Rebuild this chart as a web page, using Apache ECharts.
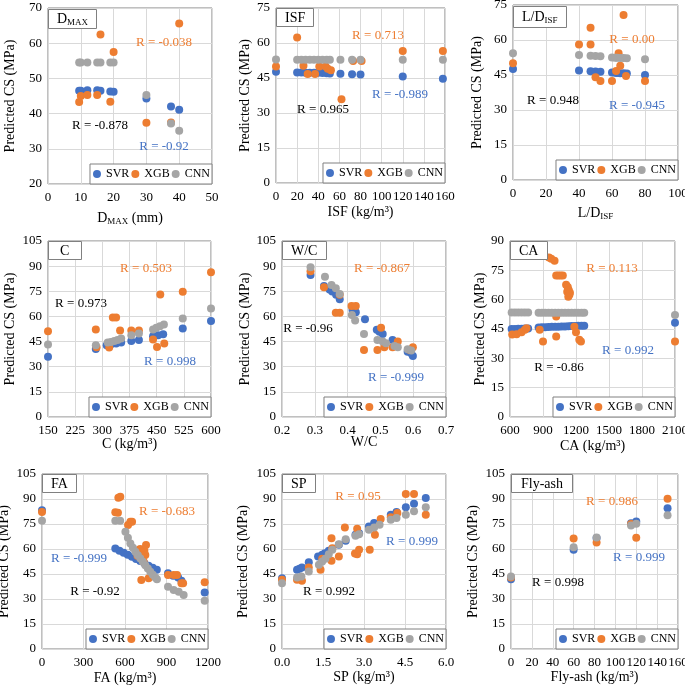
<!DOCTYPE html>
<html><head><meta charset="utf-8">
<script src="https://cdn.jsdelivr.net/npm/echarts@6/dist/echarts.min.js"></script>
<style>html,body{margin:0;padding:0;background:#fff}#c{width:685px;height:688px}</style>
</head><body><div id="c"></div>
<script>
// ---------- DATA ----------
// Panel 1: D_MAX
const dmaxX   = [9.5,10,12,15,16,19,20,30,37.5,40];
const dmaxSVR = [46.5,46.5,46.6,46.6,46.5,46.3,46.2,44.3,42.0,41.1];
const dmaxXGB = [43.3,45.0,45.3,45.3,62.5,43.4,57.5,37.4,37.5,65.6];
const dmaxCNN = [54.5,54.5,54.5,54.5,54.5,54.5,54.5,45.3,37.2,35.1];
// Panel 2: ISF
const isfX    = [0,20,24,28,32,36,40,44,48,51,61,72,80,120,158];
const isfSVR  = [47.7,47.4,47.4,47.3,47.3,47.2,47.2,47.1,47.0,46.9,46.8,46.6,46.5,45.6,44.7];
const isfCNN  = [52.9,52.8,52.8,52.8,52.8,52.8,52.8,52.8,52.8,52.8,52.8,52.8,52.8,52.8,52.8];
const isfXgbX = [0,20,26,30,37,41,47,49,52,62,73,81,120,158];
const isfXGB  = [49.9,62.4,50.2,46.7,46.7,49.9,49.9,49.0,48.3,35.9,52.3,52.3,56.6,56.6];
// Panel 3: L/D_ISF
const ldX     = [0,40,47,50,53,60,62,63,65,67,69,80];
const ldSVR   = [47.6,46.9,46.6,46.5,46.4,46.1,46.0,45.9,45.8,45.7,45.6,45.0];
const ldCNN   = [54.3,53.6,53.3,53.1,53.0,52.5,52.4,52.4,52.3,52.3,52.2,51.7];
const ldXgbX  = [0,40,47,47,50,53,60,62.5,64,65,67,68.5,80];
const ldXGB   = [50.0,58.1,65.3,58.1,44.0,42.4,42.4,46.7,54.3,49.0,70.7,44.6,42.4];
// Panel 4: C
const cSvrX   = [150,282,312,324,338,352,380,401,440,454,468,522,600];
const cSVR    = [35.9,40.6,42.8,43.4,43.8,44.4,45.4,46.0,48.2,48.8,49.4,52.8,57.2];
const cXgbX   = [150,282,284,319,329,338,349,380,401,440,451,460,471,522,600];
const cXGB    = [51.2,52.2,41.6,41.4,59.4,59.4,51.6,51.6,51.6,46.2,41.8,73.1,43.8,74.7,86.3];
const cCnnX   = [150,282,315,324,333,342,352,380,401,440,449,459,470,522,600];
const cCNN    = [43.2,42.8,44.4,44.8,45.4,46.0,46.8,48.8,49.8,52.2,53.2,54.2,55.2,58.8,64.7];
// Panel 5: W/C
const wcSvrX  = [0.287,0.328,0.345,0.353,0.365,0.376,0.415,0.425,0.453,0.489,0.497,0.507,0.537,0.545,0.583,0.594,0.599];
const wcSVR   = [84.7,78.2,76.0,74.8,73.0,70.2,63.9,62.5,58.3,52.1,50.8,49.5,46.0,44.5,39.0,38.0,36.4];
const wcXgbX  = [0.287,0.328,0.364,0.376,0.376,0.412,0.425,0.450,0.491,0.502,0.512,0.537,0.553,0.590,0.599];
const wcXGB   = [87.0,77.4,62.2,62.2,73.0,66.2,66.2,39.9,39.9,53.3,41.6,41.6,45.0,40.0,41.6];
const wcCnnX  = [0.287,0.331,0.351,0.364,0.376,0.413,0.423,0.450,0.491,0.507,0.517,0.543,0.553,0.583,0.594];
const wcCNN   = [89.3,83.7,78.8,76.8,73.4,60.8,57.5,49.5,46.0,45.0,44.0,42.3,41.6,40.4,39.6];
// Panel 6: CA
const caX     = [615,645,675,705,735,765,860,890,920,950,980,1010,1040,1070,1100,1130,1160,1190,1220,1250,1275,2100];
const caSVR   = [45.0,45.0,45.1,45.1,45.2,45.2,45.8,45.9,45.9,46.0,46.1,46.1,46.2,46.3,46.3,46.4,46.5,46.5,46.6,46.7,46.7,48.2];
const caCNN   = [53.4,53.4,53.4,53.4,53.4,53.4,53.3,53.3,53.3,53.3,53.3,53.3,53.3,53.3,53.3,53.3,53.3,53.3,53.3,53.3,53.3,52.1];
const caXgbX  = [620,660,705,735,750,870,900,954,975,1005,1020,1040,1060,1080,1020,1020,1110,1125,1134,1120,1140,1130,1145,1185,1200,1230,1245,2100];
const caXGB   = [42.2,42.3,43.4,44.6,45.4,44.6,38.6,81.6,80.9,79.9,72.4,72.4,72.4,72.4,51.4,41.2,67.6,66.5,65.0,64.0,62.5,61.5,63.5,46.2,43.4,39.5,38.6,38.6];
// Panel 7: FA
const faSvrX  = [0,530,560,590,620,650,680,710,740,770,800,830,911,948,984,1008,1176];
const faSVR   = [83.3,60.3,59.0,57.8,56.5,55.3,54.0,52.8,51.5,50.0,48.8,47.5,45.4,44.0,42.9,40.9,33.9];
const faXgbX  = [0,530,549,552,566,622,639,651,690,699,710,723,728,740,747,752,735,718,771,911,952,976,1008,1020,1176];
const faXGB   = [82.2,82.0,81.8,90.8,91.4,74.4,76.4,76.4,56.0,59.4,60.0,58.4,54.0,59.0,56.4,62.4,52.4,41.4,42.4,44.4,44.4,44.4,39.5,39.5,40.1];
const faCnnX  = [0,530,565,603,621,639,657,675,693,711,729,747,765,783,801,819,831,911,952,988,1024,1176];
const faCNN   = [77.0,77.0,77.0,70.3,66.8,63.3,60.8,58.3,56.3,54.3,52.3,50.3,48.3,46.3,44.6,42.9,41.8,37.4,35.4,34.4,32.4,28.9];
// Panel 8: SP
const spSvrX  = [0,0.55,0.64,0.73,0.98,1.32,1.47,1.57,1.71,2.08,2.33,2.69,2.82,3.18,3.37,3.98,4.19,4.53,4.83,5.26];
const spSVR   = [42.5,47.5,48.1,48.9,52.1,55.5,56.5,57.5,58.9,62.5,64.9,68.5,69.5,73.5,75.6,80.6,82.2,85.0,87.2,90.6];
const spXgbX  = [0,0.55,0.73,0.98,1.41,1.47,1.81,1.84,1.81,2.08,2.30,2.67,2.75,2.82,2.75,3.21,3.40,3.61,3.98,4.22,4.53,4.83,5.26];
const spXGB   = [41.5,41.5,40.9,48.9,47.5,54.1,66.5,60.5,52.9,55.5,72.9,57.3,56.9,59.5,72.1,59.5,68.5,78.0,79.0,81.6,93.0,93.0,80.6];
const spCnnX  = [0,0.55,0.71,0.98,1.35,1.47,1.59,1.71,1.84,2.08,2.33,2.69,2.82,3.18,3.37,3.57,3.98,4.19,4.53,4.83,5.26];
const spCNN   = [39.5,42.9,43.5,46.5,50.5,52.5,54.1,56.9,59.5,62.9,65.9,67.9,68.9,71.5,72.9,74.5,77.6,78.6,80.6,82.6,85.0];
// Panel 9: Fly-ash
const flyX    = [0,60,82,115,120,150];
const flySVR  = [41.9,59.5,66.6,75.5,76.5,84.5];
const flyXGB  = [42.9,66.3,63.9,75.0,66.7,90.2];
const flyCNN  = [43.5,61.1,66.9,74.1,75.2,80.2];

// R annotations per panel: [orange, blue, black]
const rTexts = [
  ['R = -0.038','R = -0.92','R = -0.878'],
  ['R = 0.713','R = -0.989','R = 0.965'],
  ['R = 0.00','R = -0.945','R = 0.948'],
  ['R = 0.503','R = 0.998','R = 0.973'],
  ['R = -0.867','R = -0.999','R = -0.96'],
  ['R = 0.113','R = 0.992','R = -0.86'],
  ['R = -0.683','R = -0.999','R = -0.92'],
  ['R = 0.95','R = 0.999','R = 0.992'],
  ['R = 0.986','R = 0.999','R = 0.998']
];
const panelTitles = ['{a|D}{s|MAX}','ISF','{a|L/D}{s|ISF}','C','W/C','CA','FA','SP','Fly-ash'];
const xNames = ['{a|D}{s|MAX}{a| (mm)}','ISF (kg/m³)','{a|L/D}{s|ISF}','C (kg/m³)','W/C','CA (kg/m³)','FA (kg/m³)','SP (kg/m³)','Fly-ash (kg/m³)'];
const seriesNames = ['SVR','XGB','CNN'];

// ---------- LAYOUT / STYLE ----------
const FONT = '"Liberation Serif","Times New Roman",serif';
const COLORS = {SVR:'#4472C4', XGB:'#ED7D31', CNN:'#A5A5A5'};
const pair = (xs, ys) => xs.map((x, i) => [x, ys[i]]);

const panels = [
  {g:[48,8,164,176],  x:[0,50,10],     y:[20,70,10], s:[[dmaxX,dmaxSVR],[dmaxX,dmaxXGB],[dmaxX,dmaxCNN]], xg:26, yg:31, tpad:[3,9,2,9],
   r:[[164,43],[164,147],[100,126]]},
  {g:[276,8,169,175], x:[0,160,20],    y:[0,75,15],  s:[[isfX,isfSVR],[isfXgbX,isfXGB],[isfX,isfCNN]], xg:22, yg:24, tpad:[3,9,2,9],
   r:[[378,36],[400,95],[323,110]]},
  {g:[513,5,165,175], x:[0,100,20],    y:[0,75,15],  s:[[ldX,ldSVR],[ldXgbX,ldXGB],[ldX,ldCNN]], xg:25, yg:29, tpad:[4,9,3,9],
   r:[[632,40],[637,106],[553,101]]},
  {g:[48,241,163,176],x:[150,600,75],  y:[0,105,15], s:[[cSvrX,cSVR],[cXgbX,cXGB],[cCnnX,cCNN]], xg:20, yg:31, tpad:[3,12,2,12],
   r:[[146,269],[170,362],[81,304]]},
  {g:[282,241,164,176],x:[0.2,0.7,0.1],y:[0,105,15], s:[[wcSvrX,wcSVR],[wcXgbX,wcXGB],[wcCnnX,wcCNN]], xg:18, yg:30, tpad:[3,9,2,9], fx:1,
   r:[[382,269],[396,378],[308,329]]},
  {g:[510,241,165,176],x:[600,2100,300],y:[0,90,15], s:[[caX,caSVR],[caXgbX,caXGB],[caX,caCNN]], xg:22, yg:23, tpad:[3,9,2,9],
   r:[[612,269],[628,351],[559,368]]},
  {g:[42,474,166,175], x:[0,1200,300], y:[0,105,15], s:[[faSvrX,faSVR],[faXgbX,faXGB],[faCnnX,faCNN]], xg:22, yg:31, tpad:[3,9,2,9],
   r:[[167,512],[79,559],[95,592]]},
  {g:[282,474,164,175],x:[0,6,1.5],    y:[0,105,15], s:[[spSvrX,spSVR],[spXgbX,spXGB],[spCnnX,spCNN]], xg:21, yg:32, tpad:[3,9,2,9], fx:1,
   r:[[358,497],[412,542],[329,592]]},
  {g:[511,474,167,175],x:[0,160,20],   y:[0,105,15], s:[[flyX,flySVR],[flyX,flyXGB],[flyX,flyCNN]], xg:21, yg:31, tpad:[3,10,2,10],
   r:[[612,502],[639,558],[558,583]]}
];

const richSub = {
  a: {fontFamily: FONT, fontSize: 14, color: '#000', lineHeight: 16},
  s: {fontFamily: FONT, fontSize: 9, color: '#000', verticalAlign: 'bottom', lineHeight: 9}
};

const grid = [], xAxis = [], yAxis = [], series = [], legend = [], title = [], graphicEls = [];
panels.forEach((p, i) => {
  const [l, t, w, h] = p.g;
  grid.push({left: l, top: t, width: w, height: h, show: true, borderColor: '#808080', borderWidth: 1,
             backgroundColor: '#fff', containLabel: false, outerBoundsMode: 'none'});
  xAxis.push({
    type: 'value', gridIndex: i, min: p.x[0], max: p.x[1], interval: p.x[2],
    name: xNames[i], nameLocation: 'middle', nameGap: p.xg, nameMoveOverlap: false,
    nameTextStyle: {fontFamily: FONT, fontSize: 14, color: '#000', rich: richSub},
    axisLine: {show: false}, axisTick: {show: false},
    axisLabel: {fontFamily: FONT, fontSize: 13, color: '#000', margin: 7,
      formatter: p.fx ? (v => v.toFixed(1)) : (v => String(Math.round(v * 100) / 100))},
    splitLine: {show: true, lineStyle: {color: '#d9d9d9', width: 1}}
  });
  yAxis.push({
    type: 'value', gridIndex: i, min: p.y[0], max: p.y[1], interval: p.y[2],
    name: 'Predicted CS (MPa)', nameLocation: 'middle', nameGap: p.yg, nameMoveOverlap: false,
    nameTextStyle: {fontFamily: FONT, fontSize: 14, color: '#000'},
    axisLine: {show: false}, axisTick: {show: false},
    axisLabel: {fontFamily: FONT, fontSize: 13, color: '#000', margin: 6},
    splitLine: {show: true, lineStyle: {color: '#d9d9d9', width: 1}}
  });
  p.s.forEach((d, k) => {
    const nm = seriesNames[k];
    series.push({
      type: 'scatter', name: nm, xAxisIndex: i, yAxisIndex: i,
      data: pair(d[0], d[1]), symbol: 'circle', symbolSize: 8,
      itemStyle: {color: COLORS[nm], opacity: 1}, z: 2 + k
    });
  });
  legend.push({
    data: seriesNames, right: 685 - (l + w), bottom: 688 - (t + h), orient: 'horizontal',
    icon: 'circle', itemWidth: 8, itemHeight: 8, itemGap: 2, padding: [4, 2, 4, 3],
    backgroundColor: '#fff', borderColor: '#808080', borderWidth: 1, selectedMode: false,
    textStyle: {fontFamily: FONT, fontSize: 12, color: '#000'}, z: 10
  });
  title.push({
    text: panelTitles[i], left: l, top: t, padding: p.tpad,
    backgroundColor: '#fff', borderColor: '#808080', borderWidth: 1,
    textStyle: {fontFamily: FONT, fontSize: 14, fontWeight: 'normal', color: '#000', rich: richSub}, z: 10
  });
  const cols = [COLORS.XGB, COLORS.SVR, '#000'];
  p.r.forEach((pos, k) => {
    graphicEls.push({
      type: 'text', x: pos[0], y: pos[1], z: 20,
      style: {text: rTexts[i][k], fill: cols[k], font: '13px ' + FONT,
              textAlign: 'center', textVerticalAlign: 'middle', align: 'center', verticalAlign: 'middle'}
    });
  });
});

const chart = echarts.init(document.getElementById('c'));
chart.setOption({
  animation: false, backgroundColor: '#fff',
  grid, xAxis, yAxis, series, legend, title,
  graphic: {elements: graphicEls}
});
</script>
</body></html>
